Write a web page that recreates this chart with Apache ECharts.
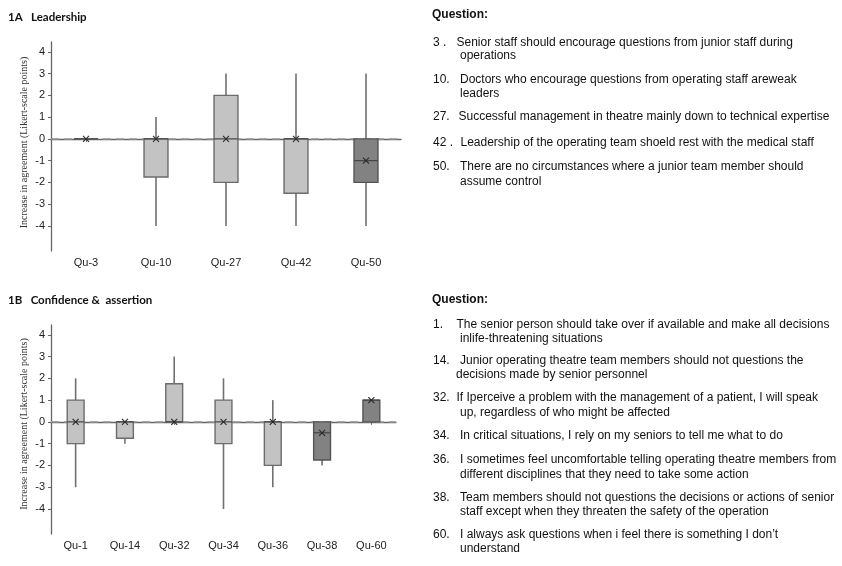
<!DOCTYPE html>
<html><head><meta charset="utf-8">
<script src="https://cdn.jsdelivr.net/npm/echarts@6/dist/echarts.min.js"></script>
<style>html,body{margin:0;padding:0;background:#fff}#c{width:842px;height:566px}</style>
</head><body><div id="c"></div>
<script>
// ---- Panel 1A: Leadership ----
const catsA = ['Qu-3', 'Qu-10', 'Qu-27', 'Qu-42', 'Qu-50'];
const lowA  = [0, -4, -4, -4, -4];
const q1A   = [0, -1.75, -2, -2.5, -2];
const medA  = [0, 0, 0, 0, -1];
const q3A   = [0, 0, 2, 0, 0];
const highA = [0, 1, 3, 3, 3];
const meanA = [0, 0, 0, 0, -1];
const darkA = [0, 0, 0, 0, 1];

// ---- Panel 1B: Confidence & assertion ----
const catsB = ['Qu-1', 'Qu-14', 'Qu-32', 'Qu-34', 'Qu-36', 'Qu-38', 'Qu-60'];
const lowB  = [-3, -1, 0, -4, -3, -2, 0];
const q1B   = [-1, -0.75, 0, -1, -2, -1.75, 0];
const medB  = [0, 0, 0, 0, 0, -0.5, 1];
const q3B   = [1, 0, 1.75, 1, 0, 0, 1];
const highB = [2, 0, 3, 2, 1, 0, 1];
const meanB = [0, 0, 0, 0, 0, -0.5, 1];
const darkB = [0, 0, 0, 0, 0, 1, 1];

const yTicks = [-4, -3, -2, -1, 0, 1, 2, 3, 4];

const questionsA = [
  ['3 .', 'Senior staff should encourage questions from junior staff during', 'operations'],
  ['10.', 'Doctors who encourage questions from operating staff areweak', 'leaders'],
  ['27.', 'Successful management in theatre mainly down to technical expertise', ''],
  ['42 .', 'Leadership of the operating team shoeld rest with the medical staff', ''],
  ['50.', 'There are no circumstances where a junior team member should', 'assume control']
];
const questionsB = [
  ['1.', 'The senior person should take over if available and make all decisions', 'inlife-threatening situations'],
  ['14.', 'Junior operating theatre team members should not questions the', 'decisions made by senior personnel'],
  ['32.', 'If Iperceive a problem with the management of a patient, I will speak', 'up, regardless of who might be affected'],
  ['34.', 'In critical situations, I rely on my seniors to tell me what to do', ''],
  ['36.', 'I sometimes feel uncomfortable telling operating theatre members from', 'different disciplines that they need to take some action'],
  ['38.', 'Team members should not questions the decisions or actions of senior', 'staff except when they threaten the safety of the operation'],
  ['60.', 'I always ask questions when i feel there is something I don\u2019t', 'understand']
];

function rows(cats, low, q1, med, q3, high, mean, dark) {
  return cats.map((c, i) => [i, low[i], q1[i], med[i], q3[i], high[i], mean[i], dark[i]]);
}

function renderBox(params, api) {
  const i = api.value(0);
  const band = api.size([1, 0])[0];
  const w = band * 0.342;
  const pLow = api.coord([i, api.value(1)]);
  const pQ1 = api.coord([i, api.value(2)]);
  const pMed = api.coord([i, api.value(3)]);
  const pQ3 = api.coord([i, api.value(4)]);
  const pHigh = api.coord([i, api.value(5)]);
  const pMean = api.coord([i, api.value(6)]);
  const dark = api.value(7) === 1;
  const x = pQ1[0];
  const s = 3;
  const children = [
    { type: 'line', shape: { x1: x, y1: pHigh[1], x2: x, y2: pLow[1] },
      style: { stroke: '#707070', lineWidth: 1.6 } },
    { type: 'rect', shape: { x: x - w / 2, y: pQ3[1], width: w, height: pQ1[1] - pQ3[1] },
      style: { fill: dark ? '#828282' : '#c3c3c3', stroke: dark ? '#555555' : '#6c6c6c', lineWidth: 1.4 } },
    { type: 'line', shape: { x1: x - w / 2, y1: pMed[1], x2: x + w / 2, y2: pMed[1] },
      style: { stroke: '#444444', lineWidth: 1.2 } },
    { type: 'line', shape: { x1: pMean[0] - s, y1: pMean[1] - s, x2: pMean[0] + s, y2: pMean[1] + s },
      style: { stroke: '#2a2a2a', lineWidth: 1.1 } },
    { type: 'line', shape: { x1: pMean[0] - s, y1: pMean[1] + s, x2: pMean[0] + s, y2: pMean[1] - s },
      style: { stroke: '#2a2a2a', lineWidth: 1.1 } }
  ];
  return { type: 'group', children: children };
}

const axisFont = 'Liberation Sans';
function xAxisCfg(cats, gi) {
  return {
    type: 'category', gridIndex: gi, data: cats,
    axisLine: { lineStyle: { color: '#666', width: 1.3 } },
    axisTick: { show: true, alignWithLabel: true, length: 3, lineStyle: { color: '#666' } },
    axisLabel: { color: '#222', fontSize: 11, fontFamily: axisFont, margin: 6 }
  };
}
function yAxisCfg(gi, pad) {
  return {
    type: 'value', gridIndex: gi, min: -5.15, max: 4.45,
    name: 'Increase in agreement (Likert-scale points)',
    nameLocation: 'middle', nameGap: 22,
    nameTextStyle: { fontFamily: 'Liberation Serif', fontSize: 10, color: '#333', padding: [0, 0, 0, pad] },
    axisLine: { show: true, lineStyle: { color: '#666', width: 1.3 } },
    axisTick: { show: true, length: 3, customValues: yTicks, lineStyle: { color: '#666' } },
    axisLabel: { customValues: yTicks, color: '#222', fontSize: 11, fontFamily: axisFont, margin: 6 },
    splitLine: { show: false }
  };
}

function zeroLine(xi, yi) {
  return {
    type: 'line', xAxisIndex: xi, yAxisIndex: yi, data: [], z: 1, silent: true,
    markLine: {
      silent: true, symbol: ['none', 'none'], label: { show: false }, z: 1,
      lineStyle: { color: '#959595', type: [8, 5], width: 1.5 },
      data: [{ yAxis: 0 }]
    }
  };
}

const graphics = [];
function addText(text, x, y, bold, size, family) {
  graphics.push({
    type: 'text', x: x, y: y, silent: true,
    style: { text: text, fill: '#111', fontSize: size, fontWeight: bold ? 'bold' : 'normal',
      fontFamily: family, verticalAlign: 'middle', align: 'left' }
  });
}
addText('1A   Leadership', 8, 17, true, 11.5, 'Lato');
addText('1B   Confidence &  assertion', 8, 300, true, 11.5, 'Lato');
addText('Question:', 432, 15, true, 12, 'Liberation Sans');
addText('Question:', 432, 300, true, 12, 'Liberation Sans');

const fs = 12;
const posA = [[43, 55.5], [80, 94], [116.5, 0], [142.5, 0], [166.5, 181.5]];
const xA = [[456.5, 460], [460, 460], [458.5, 460], [460.5, 460], [460, 460]];
questionsA.forEach((q, i) => {
  addText(q[0], 433, posA[i][0], false, fs, 'Liberation Sans');
  addText(q[1], xA[i][0], posA[i][0], false, fs, 'Liberation Sans');
  if (q[2]) addText(q[2], xA[i][1], posA[i][1], false, fs, 'Liberation Sans');
});
const posB = [[324.5, 338.5], [361, 375], [397.5, 412.5], [436, 0], [460, 475], [497.5, 512], [534.5, 549]];
const xB = [[456.5, 460], [460, 456], [456.5, 460], [460, 460], [460, 460], [460, 460], [460, 460]];
questionsB.forEach((q, i) => {
  addText(q[0], 433, posB[i][0], false, fs, 'Liberation Sans');
  addText(q[1], xB[i][0], posB[i][0], false, fs, 'Liberation Sans');
  if (q[2]) addText(q[2], xB[i][1], posB[i][1], false, fs, 'Liberation Sans');
});

const chart = echarts.init(document.getElementById('c'), null, { renderer: 'canvas' });
chart.setOption({
  animation: false,
  backgroundColor: '#fff',
  grid: [
    { left: 51, top: 42, width: 350, height: 209 },
    { left: 51, top: 325, width: 345, height: 209 }
  ],
  xAxis: [xAxisCfg(catsA, 0), xAxisCfg(catsB, 1)],
  yAxis: [yAxisCfg(0, 8), yAxisCfg(1, 11)],
  series: [
    zeroLine(0, 0),
    zeroLine(1, 1),
    {
      type: 'custom', xAxisIndex: 0, yAxisIndex: 0, z: 3,
      renderItem: renderBox,
      encode: { x: 0, y: [1, 2, 3, 4, 5, 6] },
      data: rows(catsA, lowA, q1A, medA, q3A, highA, meanA, darkA)
    },
    {
      type: 'custom', xAxisIndex: 1, yAxisIndex: 1, z: 3,
      renderItem: renderBox,
      encode: { x: 0, y: [1, 2, 3, 4, 5, 6] },
      data: rows(catsB, lowB, q1B, medB, q3B, highB, meanB, darkB)
    }
  ],
  graphic: graphics
});
</script></body></html>
